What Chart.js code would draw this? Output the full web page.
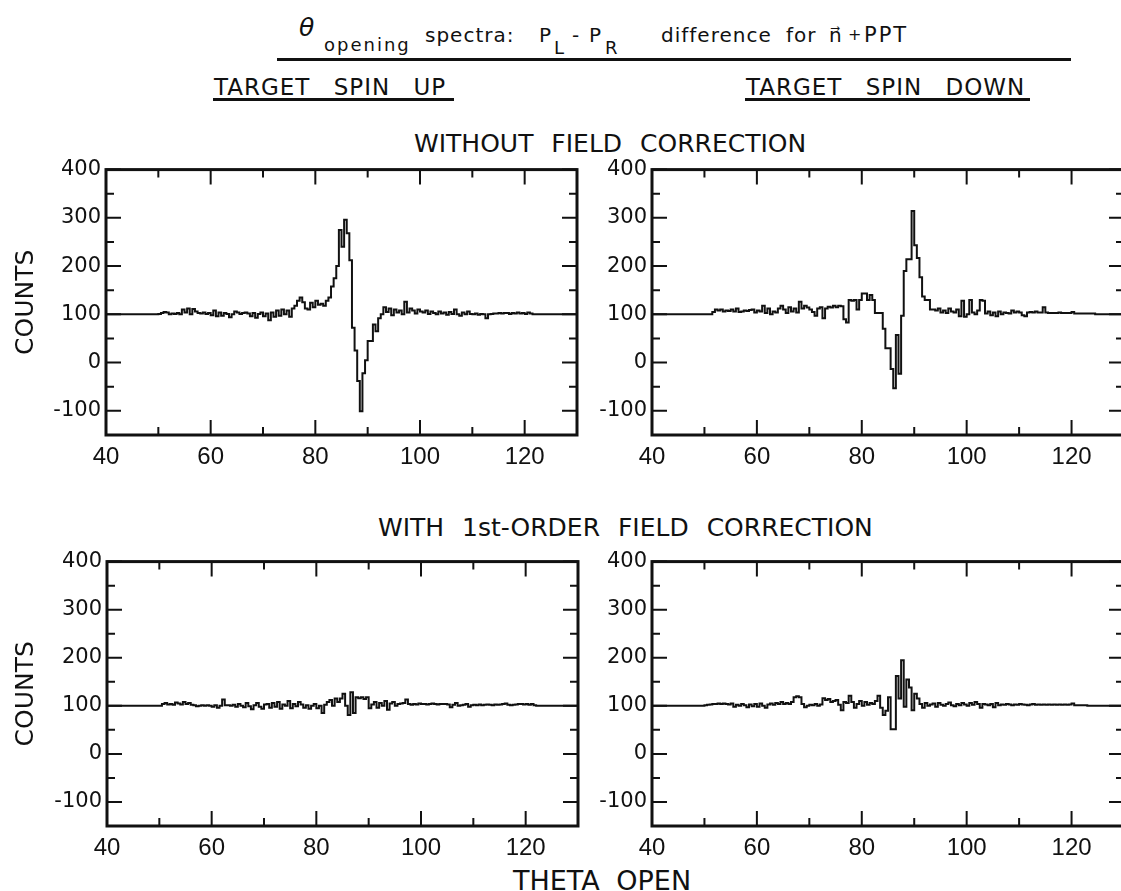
<!DOCTYPE html>
<html>
<head>
<meta charset="utf-8">
<script src="https://cdn.jsdelivr.net/npm/chart.js@4/dist/chart.umd.min.js"></script>
<style>
html, body { margin: 0; padding: 0; background: #fff; overflow: hidden; }
body { width: 1121px; height: 891px; position: relative; font-family: "DejaVu Sans", sans-serif; color: #111; }
canvas { position: absolute; }
.lbl { position: absolute; white-space: nowrap; line-height: 1; font-size: 25px; word-spacing: 10px; }
.t { position: absolute; white-space: nowrap; line-height: 1; font-size: 20px; }
.rule { position: absolute; height: 3px; background: #111; }
.head { font-size: 23px; letter-spacing: 1px; word-spacing: 15px; }
</style>
</head>
<body>

<!-- main title, pieces placed one by one -->
<div class="t" style="left:299px; top:15px; font-size:25px; font-style:italic;">θ</div>
<div class="t" style="left:324px; top:36px; font-size:18px; letter-spacing:2px;">opening</div>
<div class="t" style="left:425px; top:25px; letter-spacing:1px;">spectra:</div>
<div class="t" style="left:539px; top:25px;">P</div>
<div class="t" style="left:554px; top:39px; font-size:18px;">L</div>
<div class="t" style="left:572px; top:25px;">-</div>
<div class="t" style="left:589px; top:25px;">P</div>
<div class="t" style="left:605px; top:39px; font-size:18px;">R</div>
<div class="t" style="left:661px; top:25px; letter-spacing:1px;">difference</div>
<div class="t" style="left:786px; top:25px; letter-spacing:1px;">for</div>
<div class="t" style="left:829px; top:25px;">n⃗</div>
<div class="t" style="left:848px; top:27px; font-size:16px;">+</div>
<div class="t" style="left:864px; top:25px; font-size:21px; letter-spacing:2px;">PPT</div>
<div class="rule" style="left:277px; top:58px; width:794px;"></div>

<div class="lbl head" style="left:214px; top:76px;">TARGET SPIN UP</div>
<div class="rule" style="left:213px; top:98px; width:241px;"></div>
<div class="lbl head" style="left:746px; top:76px;">TARGET SPIN DOWN</div>
<div class="rule" style="left:745px; top:98px; width:285px;"></div>

<div class="lbl" style="left:414px; top:131px;">WITHOUT FIELD CORRECTION</div>
<div class="lbl" style="left:378px; top:515px;">WITH 1st-ORDER FIELD CORRECTION</div>
<div class="lbl" style="left:513px; top:867px; font-size:27px; word-spacing:8px;">THETA OPEN</div>

<canvas id="upRaw" width="590" height="320" style="left:0; top:152px;"></canvas>
<canvas id="downRaw" width="575" height="320" style="left:560px; top:152px;"></canvas>
<canvas id="upCorr" width="590" height="320" style="left:0; top:544px;"></canvas>
<canvas id="downCorr" width="575" height="320" style="left:560px; top:544px;"></canvas>

<script>
// Histogram bins: 0.5 deg wide, first bin starts at 50 deg; outside the bins the curve sits on the baseline
const binStart = 50;
const binWidth = 0.5;
const baseline = 100;
const xMin = 40, xMax = 130;
const yMin = -150, yMax = 400;
const xTickLabels = [40, 60, 80, 100, 120];
const yTickLabels = [400, 300, 200, 100, 0, -100];

// target spin up, without field correction (one row = 5 deg)
const spinUpRaw = [
  100, 101, 103, 105, 104, 100, 102, 101, 103, 100,
  110, 104, 112, 100, 111, 106, 103, 102, 104, 101,
  103, 98, 108, 96, 104, 97, 103, 101, 94, 100,
  106, 104, 101, 103, 104, 102, 96, 103, 93, 101,
  104, 96, 102, 88, 104, 95, 108, 97, 110, 100,
  108, 95, 112, 118, 128, 135, 125, 112, 110, 124,
  115, 128, 120, 122, 118, 128, 135, 158, 175, 200,
  275, 240, 296, 268, 212, 72, 25, -38, -101, -22,
  5, 45, 45, 79, 65, 92, 100, 115, 105, 112,
  98, 110, 104, 108, 100, 126, 104, 112, 108, 102,
  110, 106, 104, 108, 101, 106, 103, 100, 106, 102,
  104, 99, 105, 101, 110, 100, 97, 104, 100, 106,
  101, 100, 102, 99, 101, 100, 92, 100, 101, 102,
  102, 103, 102, 103, 103, 101, 103, 102, 104, 102,
  103, 101, 104, 102, 100, 100, 100, 100, 100, 100
];

// target spin down, without field correction
const spinDownRaw = [
  100, 100, 100, 100, 105, 110, 108, 110, 106, 108,
  107, 110, 106, 112, 105, 106, 108, 107, 109, 110,
  104, 108, 106, 118, 103, 112, 100, 106, 104, 112,
  118, 110, 103, 115, 106, 112, 104, 126, 112, 118,
  114, 110, 105, 97, 112, 115, 92, 112, 116, 114,
  118, 115, 118, 117, 90, 83, 130, 128, 130, 110,
  130, 143, 143, 130, 140, 130, 103, 103, 103, 70,
  30, 30, -13, -53, 57, -23, 97, 190, 214, 214,
  314, 243, 217, 177, 137, 130, 130, 110, 110, 108,
  112, 104, 108, 103, 112, 106, 104, 110, 96, 128,
  95, 100, 130, 104, 100, 108, 130, 128, 102, 106,
  98, 104, 96, 106, 100, 104, 103, 102, 108, 104,
  106, 104, 98, 96, 104, 105, 104, 106, 104, 104,
  115, 104, 103, 103, 103, 103, 104, 103, 103, 103,
  103, 105, 102, 102, 102, 102, 102, 102, 102, 102
];

// target spin up, with 1st-order field correction
const spinUpCorr = [
  100, 100, 104, 106, 103, 104, 102, 107, 105, 103,
  108, 104, 106, 102, 101, 99, 100, 101, 100, 101,
  100, 98, 101, 96, 100, 113, 101, 101, 100, 102,
  98, 104, 100, 97, 106, 99, 93, 101, 106, 98,
  94, 103, 104, 96, 106, 98, 108, 94, 103, 100,
  110, 95, 104, 99, 108, 103, 96, 101, 94, 100,
  104, 95, 100, 85, 102, 108, 112, 100, 115, 108,
  115, 125, 100, 81, 128, 85, 118, 116, 118, 114,
  118, 95, 103, 108, 96, 106, 100, 110, 92, 105,
  108, 100, 104, 105, 106, 113, 104, 102, 104, 103,
  105, 104, 104, 103, 104, 105, 104, 103, 104, 104,
  104, 103, 97, 102, 106, 100, 101, 102, 104, 98,
  101, 102, 101, 103, 101, 102, 103, 102, 101, 103,
  102, 103, 104, 105, 102, 101, 102, 103, 104, 104,
  103, 104, 102, 104, 101, 100, 100, 100, 100, 100
];

// target spin down, with 1st-order field correction
const spinDownCorr = [
  100, 101, 102, 103, 104, 104, 105, 104, 105, 104,
  103, 105, 98, 102, 100, 104, 101, 97, 103, 99,
  104, 98, 105, 100, 96, 103, 105, 102, 106, 104,
  108, 104, 106, 104, 108, 118, 120, 118, 104, 97,
  100, 102, 101, 104, 100, 103, 116, 112, 114, 108,
  110, 112, 102, 91, 108, 106, 121, 108, 96, 104,
  110, 100, 108, 102, 106, 104, 110, 121, 96, 81,
  90, 118, 51, 51, 162, 115, 195, 98, 155, 138,
  91, 125, 115, 104, 96, 106, 100, 103, 105, 98,
  106, 102, 100, 104, 107, 101, 99, 104, 101, 106,
  103, 100, 106, 102, 108, 104, 96, 104, 103, 101,
  104, 97, 106, 101, 103, 102, 104, 103, 101, 103,
  102, 104, 103, 102, 101, 103, 104, 102, 103, 102,
  103, 102, 103, 102, 103, 102, 103, 102, 103, 102,
  103, 105, 101, 101, 101, 101, 101, 100, 100, 100
];

const ink = '#111';

function toSteps(vals) {
  const pts = [{ x: xMin, y: baseline }];
  vals.forEach((v, i) => pts.push({ x: binStart + i * binWidth, y: v }));
  pts.push({ x: binStart + vals.length * binWidth, y: baseline });
  pts.push({ x: xMax, y: baseline });
  return pts;
}

// box round the plot with inward ticks on all four sides
const framePlugin = {
  id: 'frame',
  afterDatasetsDraw(chart) {
    const { ctx, chartArea: a, scales: { x, y } } = chart;
    ctx.save();
    ctx.strokeStyle = ink;
    ctx.lineWidth = 2;
    ctx.beginPath();
    for (let v = xMin; v <= xMax; v += 10) {
      const px = x.getPixelForValue(v);
      const len = v % 20 === 0 ? 15 : 8;
      ctx.moveTo(px, a.bottom); ctx.lineTo(px, a.bottom - len);
      ctx.moveTo(px, a.top); ctx.lineTo(px, a.top + len);
    }
    for (let v = yMin; v <= yMax; v += 50) {
      const py = y.getPixelForValue(v);
      const len = v % 100 === 0 ? 15 : 8;
      ctx.moveTo(a.left, py); ctx.lineTo(a.left + len, py);
      ctx.moveTo(a.right, py); ctx.lineTo(a.right - len, py);
    }
    ctx.stroke();
    ctx.lineWidth = 3;
    ctx.strokeRect(a.left, a.top, a.right - a.left, a.bottom - a.top);
    ctx.restore();
  }
};

function makePanel(id, vals, yWidth, padRight, xHeight, showTitle) {
  new Chart(document.getElementById(id), {
    type: 'line',
    data: {
      datasets: [{
        data: toSteps(vals),
        stepped: 'after',
        borderColor: ink,
        borderWidth: 2,
        pointRadius: 0,
        fill: false
      }]
    },
    options: {
      responsive: false,
      animation: false,
      events: [],
      layout: { padding: { top: 10, right: padRight, left: 0, bottom: 0 } },
      plugins: { legend: { display: false }, tooltip: { enabled: false } },
      scales: {
        x: {
          type: 'linear', min: xMin, max: xMax,
          grid: { display: false, drawTicks: false },
          border: { display: false },
          afterBuildTicks: s => { s.ticks = xTickLabels.map(v => ({ value: v })); },
          afterFit: s => { s.height = xHeight; },
          ticks: { autoSkip: false, maxRotation: 0, padding: 8, color: ink,
                   font: { family: 'Liberation Sans', size: 24 } }
        },
        y: {
          type: 'linear', min: yMin, max: yMax,
          grid: { display: false, drawTicks: false },
          border: { display: false },
          afterBuildTicks: s => { s.ticks = yTickLabels.map(v => ({ value: v })); },
          afterFit: s => { s.width = yWidth; },
          ticks: { autoSkip: false, padding: 5, color: ink,
                   font: { family: 'DejaVu Sans', size: 21 } },
          title: { display: showTitle, text: 'COUNTS', color: ink,
                   font: { family: 'DejaVu Sans', size: 25 }, padding: { top: 11, bottom: 0 } }
        }
      }
    },
    plugins: [framePlugin]
  });
}

makePanel('upRaw', spinUpRaw, 106, 13, 37, true);
makePanel('downRaw', spinDownRaw, 92, 11, 37, false);
makePanel('upCorr', spinUpCorr, 107, 12, 38, true);
makePanel('downCorr', spinDownCorr, 92, 11, 38, false);
</script>
</body>
</html>
